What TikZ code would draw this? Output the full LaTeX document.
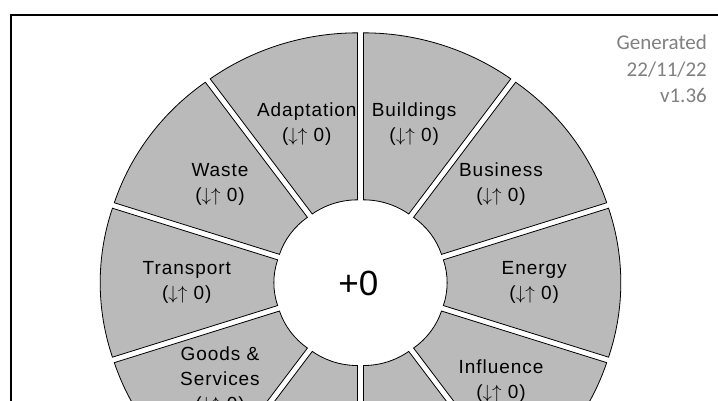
\RequirePackage{fix-cm}
\documentclass[tikz,border=0pt]{standalone}
\usepackage{fontspec}
\setmainfont{Liberation Sans}
\newfontfamily\stampfont{Carlito}
\newfontfamily\wheelfont[LetterSpace=5]{Liberation Sans}
\usepackage{tikz}
\usetikzlibrary{calc}
\definecolor{wheelgray}{RGB}{186,186,186}
\definecolor{stampgray}{RGB}{128,128,128}
\tikzstyle{segment} = [draw=black, line width=0.8pt, fill=wheelgray]
\newcommand{\trend}{($\downarrow\uparrow$ 0)}

\begin{document}
\begin{tikzpicture}[x=1pt, y=1pt,
    slabel/.style={font=\wheelfont\fontsize{19}{25}\selectfont, align=center, inner sep=0pt},
    ]
  \useasboundingbox (0,0) rectangle (718,401);
  \clip (0,0) rectangle (718,401);
  % outer frame
  \draw[line width=1.5pt] (11,0) |- (718,386);
  \begin{scope}[shift={(360.5,118.3)}, xscale=1.04]
    % ring of segments
    \foreach \a in {0,36,...,324} {
      \draw[segment, shift={(\a:9.3)}] (\a-18:74) -- (\a-18:241)
        arc[start angle=\a-18, end angle=\a+18, radius=241]
        -- (\a+18:74) arc[start angle=\a+18, end angle=\a-18, radius=74] -- cycle;
    }
    \node[font=\fontsize{35}{40}\selectfont] (total) at (-2,-1) {+0};
    \foreach \a/\name/\txt in {0/energy/Energy, 36/business/Business,
        72/buildings/Buildings, 108/adaptation/Adaptation, 144/waste/Waste,
        180/transport/Transport, 216/goods/{Goods \&\\Services}, 324/influence/Influence}
      \node[slabel] (\name) at (\a:167) {\txt\\\trend};
  \end{scope}
  \node[font=\stampfont\fontsize{21}{26.5}\selectfont, text=stampgray, align=right,
    anchor=north east, inner sep=0pt] (stamp) at (707,366) {Generated\\22/11/22\\v1.36};
\end{tikzpicture}
\end{document}
